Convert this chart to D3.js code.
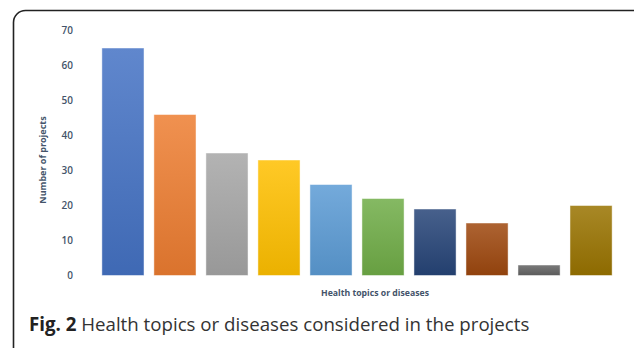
<!DOCTYPE html>
<html>
<head>
<meta charset="utf-8">
<script src="https://cdn.jsdelivr.net/npm/d3@7"></script>
<style>
  body { margin: 0; background: #fff; }
  svg { display: block; }
</style>
</head>
<body>
<div id="chart"></div>
<script>
(function() {
    "use strict";

    var categories = ["T1", "T2", "T3", "T4", "T5", "T6", "T7", "T8", "T9", "T10"];
    var projects = [65, 46, 35, 33, 26, 22, 19, 15, 3, 20];
    var yTicks = [0, 10, 20, 30, 40, 50, 60, 70];
    var barColors = ["#4472C4", "#ED7D31", "#A5A5A5", "#FFC000", "#5B9BD5",
                     "#70AD47", "#264478", "#9E480E", "#636363", "#997300"];

    var width = 634, height = 348;
    var axisColor = "#44546a";

    var svg = d3.select("#chart").append("svg")
        .attr("width", width)
        .attr("height", height);

    // frame around figure
    svg.append("rect")
        .attr("x", 13.5).attr("y", 10.5)
        .attr("width", 640).attr("height", 360)
        .attr("rx", 12)
        .attr("fill", "none")
        .attr("stroke", "#222")
        .attr("stroke-width", 1.6);

    var x = d3.scaleBand()
        .domain(categories)
        .range([92, 622])
        .paddingInner(0.19)
        .paddingOuter(0.19);

    var y = d3.scaleLinear()
        .domain([0, 70])
        .range([275.5, 30.5]);

    var defs = svg.append("defs");
    barColors.forEach(function(c, i) {
        var g = defs.append("linearGradient")
            .attr("id", "grad" + i)
            .attr("x1", 0).attr("y1", 0).attr("x2", 0).attr("y2", 1);
        g.append("stop").attr("offset", "0%").attr("stop-color", d3.interpolateRgb(c, "#fff")(0.15));
        g.append("stop").attr("offset", "100%").attr("stop-color", d3.interpolateRgb(c, "#000")(0.08));
    });

    var yAxis = svg.append("g")
        .attr("transform", "translate(73,0)")
        .call(d3.axisLeft(y).tickValues(yTicks).tickSize(0).tickPadding(0));
    yAxis.select(".domain").remove();
    yAxis.selectAll("text")
        .attr("fill", axisColor)
        .style("font-family", "'Open Sans', sans-serif")
        .style("font-size", "10px")
        .style("font-weight", "600");

    svg.selectAll("rect.bar")
        .data(projects)
        .enter()
        .append("rect")
        .attr("class", "bar")
        .attr("x", function(d, i) { return x(categories[i]); })
        .attr("y", function(d) { return y(d); })
        .attr("width", x.bandwidth())
        .attr("height", function(d) { return y(0) - y(d); })
        .attr("fill", function(d, i) { return "url(#grad" + i + ")"; })
        .attr("stroke", "rgba(255,255,255,0.6)")
        .attr("stroke-width", 0.8);

    svg.append("text")
        .attr("x", 375)
        .attr("y", 296)
        .attr("text-anchor", "middle")
        .attr("fill", axisColor)
        .style("font-family", "'Open Sans', sans-serif")
        .style("font-size", "8.7px")
        .style("font-weight", "bold")
        .text("Health topics or diseases");

    svg.append("text")
        .attr("transform", "translate(46,160) rotate(-90)")
        .attr("text-anchor", "middle")
        .attr("fill", axisColor)
        .style("font-family", "'Open Sans', sans-serif")
        .style("font-size", "9px")
        .style("font-weight", "bold")
        .text("Number of projects");

    var caption = svg.append("text")
        .attr("x", 29)
        .attr("y", 331)
        .attr("fill", "#222")
        .style("font-family", "'Open Sans', sans-serif")
        .style("font-size", "18.7px");
    caption.append("tspan").style("font-weight", "bold").text("Fig. 2");
    caption.append("tspan").attr("fill", "#333").text(" Health topics or diseases considered in the projects");
})();
</script>
</body>
</html>
